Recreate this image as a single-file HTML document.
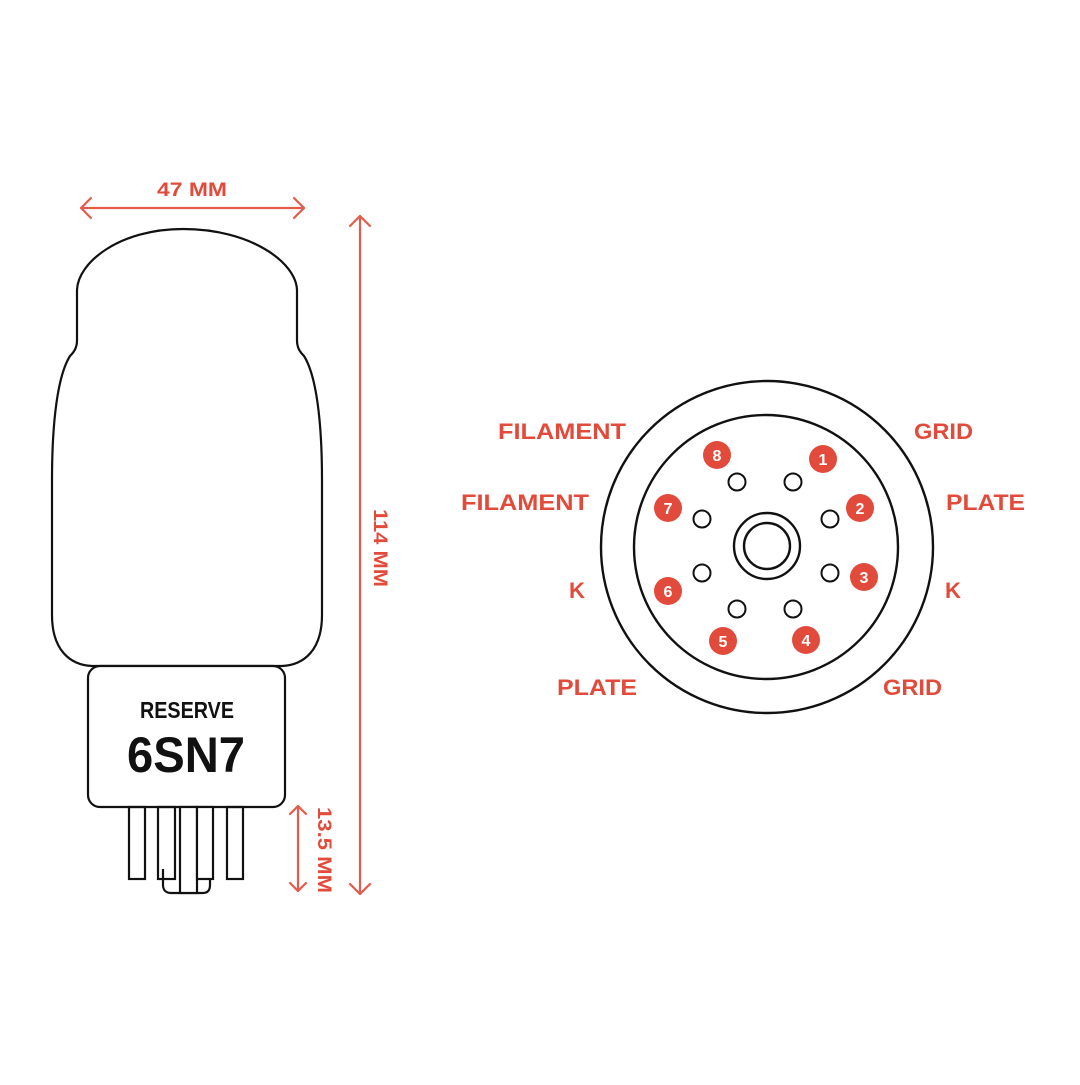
<!DOCTYPE html>
<html><head><meta charset="utf-8"><style>html,body{margin:0;padding:0;background:#fff}</style></head>
<body>
<svg width="1080" height="1080" viewBox="0 0 1080 1080" xmlns="http://www.w3.org/2000/svg">
<rect width="1080" height="1080" fill="#fff"/>
<g fill="none" stroke="#e45b4b" stroke-width="2.2" stroke-linecap="round" stroke-linejoin="round">
  <line x1="81" y1="208" x2="304" y2="208"/>
  <polyline points="91,198 81,208 91,218"/>
  <polyline points="294,198 304,208 294,218"/>
  <line x1="360" y1="216" x2="360" y2="894"/>
  <polyline points="350,226 360,216 370,226"/>
  <polyline points="350,884 360,894 370,884"/>
  <line x1="298" y1="806" x2="298" y2="891"/>
  <polyline points="290,814 298,806 306,814"/>
  <polyline points="290,883 298,891 306,883"/>
</g>
<g fill="#e24b3b" font-family="Liberation Sans, sans-serif" font-weight="bold">
  <text x="192" y="196" font-size="19" text-anchor="middle" textLength="70" lengthAdjust="spacingAndGlyphs">47 MM</text>
  <text transform="translate(374,548) rotate(90)" font-size="19" text-anchor="middle" textLength="78" lengthAdjust="spacingAndGlyphs">114 MM</text>
  <text transform="translate(318,850) rotate(90)" font-size="19" text-anchor="middle" textLength="86" lengthAdjust="spacingAndGlyphs">13.5 MM</text>
  <g font-size="22">
  <text x="498" y="439" textLength="128" lengthAdjust="spacingAndGlyphs">FILAMENT</text>
  <text x="461" y="510" textLength="128" lengthAdjust="spacingAndGlyphs">FILAMENT</text>
  <text x="569" y="598" textLength="16" lengthAdjust="spacingAndGlyphs">K</text>
  <text x="557" y="695" textLength="80" lengthAdjust="spacingAndGlyphs">PLATE</text>
  <text x="914" y="439" textLength="59" lengthAdjust="spacingAndGlyphs">GRID</text>
  <text x="946" y="510" textLength="79" lengthAdjust="spacingAndGlyphs">PLATE</text>
  <text x="945" y="598" textLength="16" lengthAdjust="spacingAndGlyphs">K</text>
  <text x="883" y="695" textLength="59" lengthAdjust="spacingAndGlyphs">GRID</text>
  </g>
</g>
<g fill="none" stroke="#111" stroke-width="2.2">
  <path d="M183,229 C120,229 78,262 77,290 L77,340 C77,348 74,352 70,356 C58,375 52,420 52,480 L52,615 C52,650 70,665 92,666 L282,666 C304,665 322,650 322,615 L322,480 C322,420 316,375 304,356 C300,352 297,348 297,340 L297,290 C296,262 250,229 183,229 Z" fill="#fff"/>
  <rect x="88" y="666" width="197" height="141" rx="12" fill="#fff"/>
  <rect x="129" y="807" width="16" height="72" />
  <rect x="158" y="807" width="17" height="72" />
  <rect x="227" y="807" width="16" height="72" />
  <path d="M163,869 L163,885 C163,890 166,893 171,893 L203,893 C208,893 210,890 210,885 L210,869"/>
  <rect x="180" y="807" width="17" height="86" fill="#fff"/>
  <rect x="197" y="807" width="16" height="72" fill="#fff"/>
  <line x1="180" y1="879" x2="213" y2="879" stroke-width="0"/>
</g>
<g fill="#111" font-family="Liberation Sans, sans-serif" font-weight="bold" text-anchor="middle">
  <text x="187" y="718" font-size="23" textLength="94" lengthAdjust="spacingAndGlyphs">RESERVE</text>
  <text x="186" y="772" font-size="50" textLength="118" lengthAdjust="spacingAndGlyphs">6SN7</text>
</g>
<g fill="none" stroke="#111" stroke-width="2.4">
  <circle cx="767" cy="547" r="166"/>
  <circle cx="766" cy="547" r="132"/>
  <circle cx="767" cy="546" r="33"/>
  <circle cx="767" cy="546" r="23"/>
  <g stroke-width="2">
  <circle cx="737" cy="482" r="8.5"/><circle cx="793" cy="482" r="8.5"/>
  <circle cx="702" cy="519" r="8.5"/><circle cx="830" cy="519" r="8.5"/>
  <circle cx="702" cy="573" r="8.5"/><circle cx="830" cy="573" r="8.5"/>
  <circle cx="737" cy="609" r="8.5"/><circle cx="793" cy="609" r="8.5"/>
  </g>
</g>
<g font-family="Liberation Sans, sans-serif" font-weight="bold" font-size="16" text-anchor="middle">
  <g fill="#e24b3b">
  <circle cx="717" cy="455" r="14"/><circle cx="823" cy="459" r="14"/>
  <circle cx="668" cy="508" r="14"/><circle cx="860" cy="508" r="14"/>
  <circle cx="668" cy="591" r="14"/><circle cx="864" cy="577" r="14"/>
  <circle cx="723" cy="641" r="14"/><circle cx="806" cy="640" r="14"/>
  </g>
  <g fill="#fff">
  <text x="717" y="461">8</text><text x="823" y="465">1</text>
  <text x="668" y="514">7</text><text x="860" y="514">2</text>
  <text x="668" y="597">6</text><text x="864" y="583">3</text>
  <text x="723" y="647">5</text><text x="806" y="646">4</text>
  </g>
</g>
</svg>
</body></html>
